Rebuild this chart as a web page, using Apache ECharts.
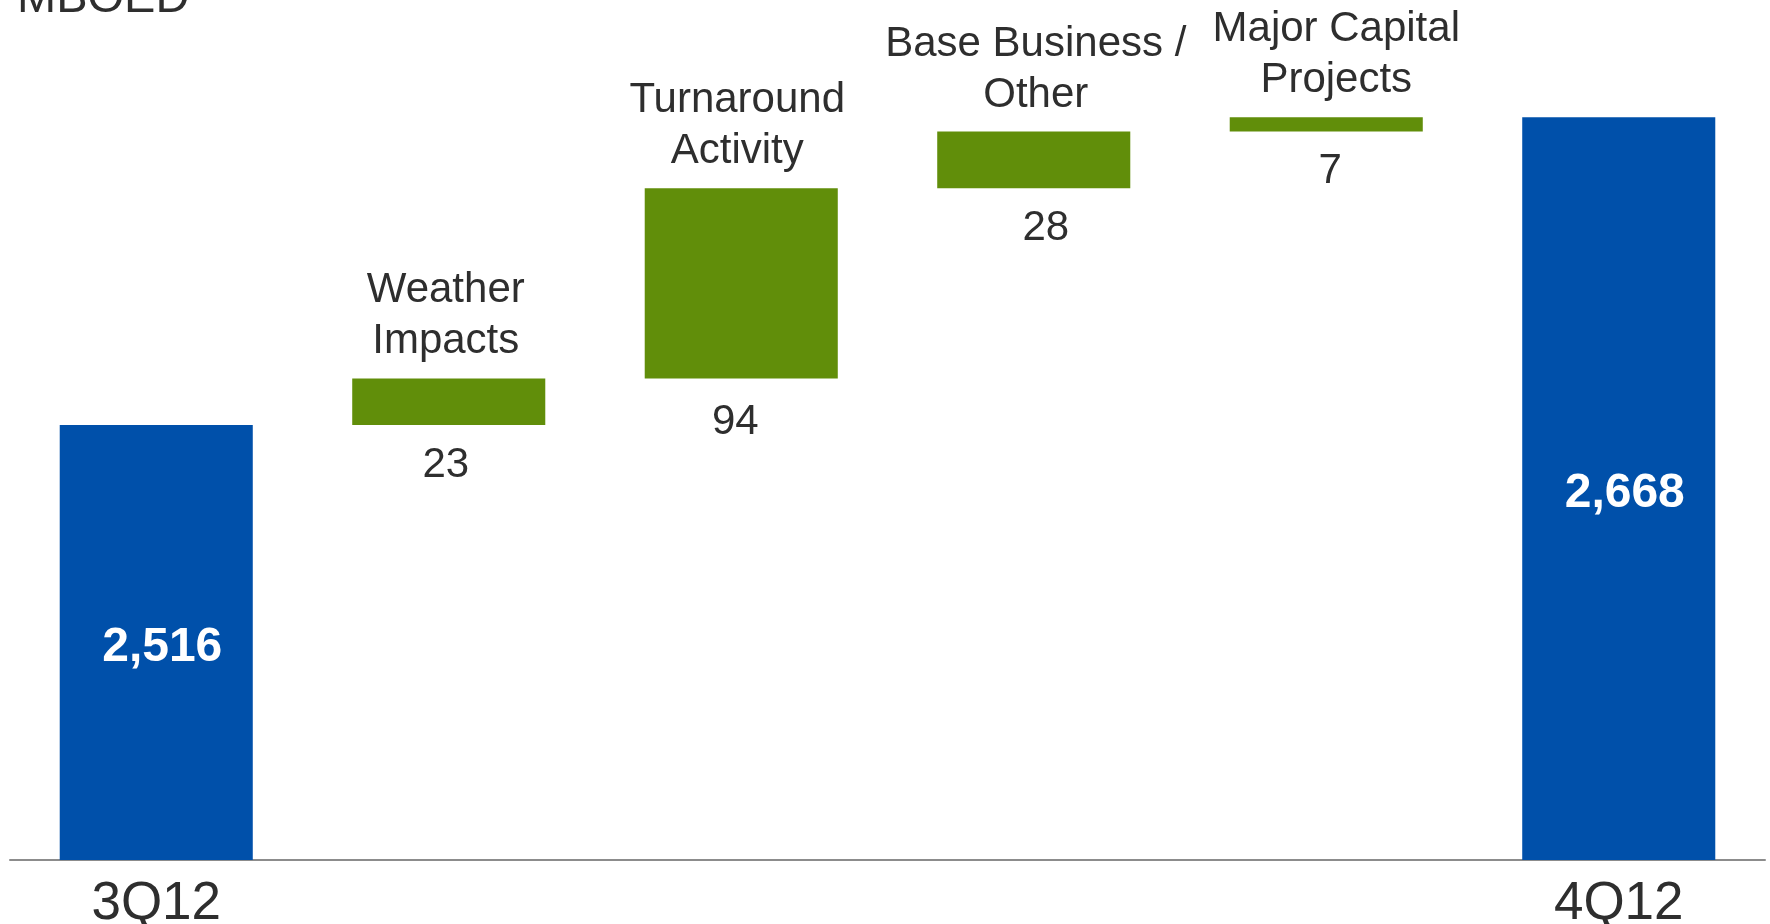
<!DOCTYPE html>
<html>
<head>
<meta charset="utf-8">
<script src="https://cdn.jsdelivr.net/npm/echarts@6/dist/echarts.min.js"></script>
<style>
  html, body { margin: 0; padding: 0; background: #fff; }
  #chart { width: 1770px; height: 924px; }
</style>
</head>
<body>
<div id="chart"></div>
<script>
// Production bridge, 3Q12 -> 4Q12 (MBOED)
const categories = ['3Q12', 'Weather\nImpacts', 'Turnaround\nActivity', 'Base Business /\nOther', 'Major Capital\nProjects', '4Q12'];
const totals = [2516, null, null, null, null, 2668];
const changes = [null, 23, 94, 28, 7, null];
const unitLabel = 'MBOED';

const FONT = '"Liberation Sans", Arial, sans-serif';
const TEXT = '#2e2e2e';
const BLUE = '#0050aa';
const GREEN = '#618e0a';

// Small nudges for individual labels (layout only)
const nameNudge = [0, -3, -4, 2, 10, 0];
const valueNudge = [6, -3, -6, 12, 4, 6];
const valueDrop = [0, 0, 4, 0, 0, 0];

// Running base for the floating change bars
const base = [];
let running = totals[0];
for (let i = 0; i < categories.length; i++) {
  if (changes[i] == null) { base.push('-'); continue; }
  base.push(running);
  running += changes[i];
}

const baseData = base.map((v, i) => ({
  value: v,
  label: { offset: [valueNudge[i], valueDrop[i]] }
}));
const changeData = changes.map((v, i) => ({
  value: v == null ? '-' : v,
  label: { offset: [nameNudge[i], 0] }
}));
const totalData = totals.map((v, i) => ({
  value: v == null ? '-' : v,
  label: { offset: [valueNudge[i], 5] }
}));

const chart = echarts.init(document.getElementById('chart'), null, { renderer: 'canvas' });
chart.setOption({
  animation: false,
  backgroundColor: '#fff',
  title: {
    text: unitLabel,
    left: 12,
    top: -30,
    textStyle: { fontFamily: FONT, fontSize: 47, fontWeight: 'normal', color: TEXT, lineHeight: 48 }
  },
  grid: { left: 10, right: 5, top: 0, bottom: 64, containLabel: false, outerBoundsMode: 'none' },
  xAxis: {
    type: 'category',
    data: categories,
    axisLine: { show: true, lineStyle: { color: '#8c8c8c', width: 2 } },
    axisTick: { show: false },
    axisLabel: {
      interval: 0,
      margin: 18,
      fontFamily: FONT,
      fontSize: 53,
      lineHeight: 53,
      color: TEXT,
      formatter: (v, i) => (totals[i] != null ? v : '')
    }
  },
  yAxis: {
    type: 'value',
    min: 2301,
    max: 2726,
    show: false,
    splitLine: { show: false }
  },
  series: [
    {
      name: 'base',
      type: 'bar',
      stack: 'bridge',
      barWidth: '66%',
      data: baseData,
      itemStyle: { color: 'rgba(0,0,0,0)' },
      silent: true,
      label: {
        show: true,
        position: 'insideTop',
        distance: 19,
        fontFamily: FONT,
        fontSize: 42,
        lineHeight: 42,
        color: TEXT,
        formatter: p => (changes[p.dataIndex] != null ? String(changes[p.dataIndex]) : '')
      }
    },
    {
      name: 'change',
      type: 'bar',
      stack: 'bridge',
      barWidth: '66%',
      data: changeData,
      itemStyle: { color: GREEN },
      label: {
        show: true,
        position: 'top',
        distance: 11,
        fontFamily: FONT,
        fontSize: 42,
        lineHeight: 51,
        color: TEXT,
        align: 'center',
        formatter: p => categories[p.dataIndex]
      }
    },
    {
      name: 'total',
      type: 'bar',
      barWidth: '66%',
      barGap: '-100%',
      data: totalData,
      itemStyle: { color: BLUE },
      label: {
        show: true,
        position: 'inside',
        fontFamily: FONT,
        fontSize: 48,
        fontWeight: 'bold',
        color: '#ffffff',
        formatter: p => p.value.toLocaleString('en-US')
      }
    }
  ]
});
</script>
</body>
</html>
